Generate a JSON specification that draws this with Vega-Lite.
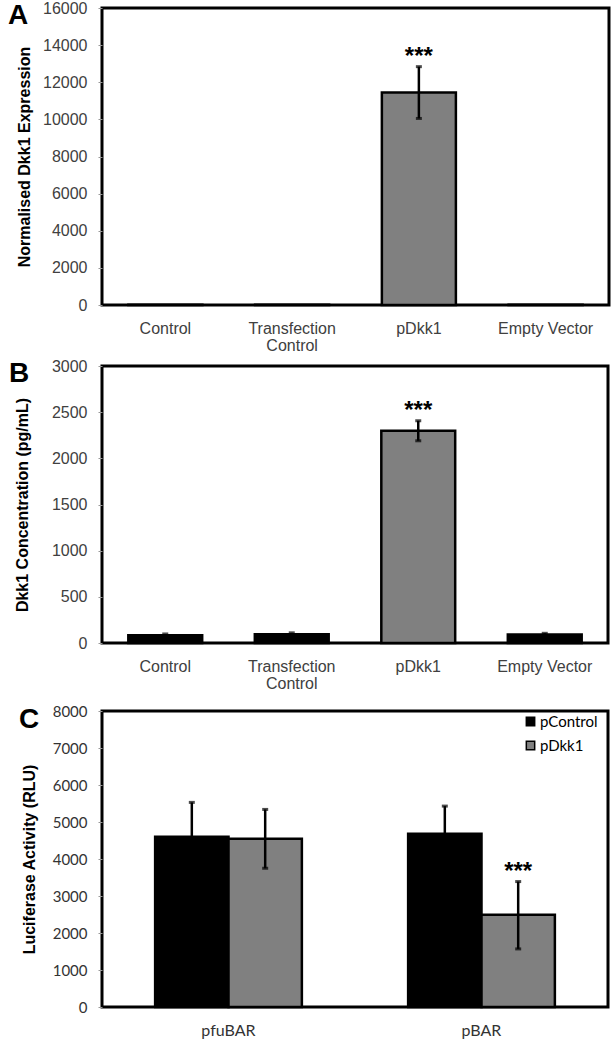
{
  "$schema": "https://vega.github.io/schema/vega-lite/v6.json",
  "background": "white",
  "padding": {"left": 6, "top": -2, "right": 5, "bottom": 0},
  "spacing": 1,
  "align": "none",
  "resolve": {"scale": {"color": "independent"}, "legend": {"color": "independent"}},
  "config": {
    "view": {"stroke": "black", "strokeWidth": 3},
    "font": "Liberation Sans",
    "axis": {"grid": false, "domain": false},
    "axisX": {"labelFont": "Liberation Sans", "labelFontSize": 16, "labelColor": "#404040", "ticks": false, "labelPadding": 15, "labelAngle": 0, "labelLineHeight": 17, "title": null},
    "title": {"anchor": "start", "frame": "group", "fontSize": 28, "fontWeight": "bold", "font": "Liberation Sans", "color": "black", "offset": -30}
  },
  "vconcat": [
    {
      "title": {"text": "A", "dx": -94},
      "width": 507,
      "height": 297,
      "data": {"values": [
        {"condition": "Control", "mean": 20, "low": null, "high": null, "sig": null},
        {"condition": "Transfection Control", "mean": 20, "low": null, "high": null, "sig": null},
        {"condition": "pDkk1", "mean": 11450, "low": 10050, "high": 12840, "sig": "***"},
        {"condition": "Empty Vector", "mean": 20, "low": null, "high": null, "sig": null}
      ]},
      "encoding": {
        "x": {"field": "condition", "type": "nominal", "sort": null, "scale": {"paddingInner": 0.416, "paddingOuter": 0.208},
              "axis": {"labelExpr": "datum.value == 'Transfection Control' ? ['Transfection', 'Control'] : datum.value"}}
      },
      "layer": [
        {"mark": {"type": "bar", "stroke": "black", "strokeWidth": 2.5},
         "encoding": {
           "y": {"field": "mean", "type": "quantitative", "scale": {"domain": [0, 16000]},
                 "axis": {"title": "Normalised Dkk1 Expression", "values": [0, 2000, 4000, 6000, 8000, 10000, 12000, 14000, 16000], "format": "d", "labelOverlap": false, "labelFont": "Liberation Sans", "labelFontSize": 16, "labelColor": "#404040", "tickColor": "#999999", "tickSize": 4, "labelPadding": 11, "titleFont": "Liberation Sans", "titleFontSize": 16, "titleFontWeight": "bold", "titleColor": "black", "titlePadding": 10}},
           "color": {"field": "condition", "type": "nominal", "scale": {"domain": ["Control", "Transfection Control", "pDkk1", "Empty Vector"], "range": ["#000000", "#000000", "#808080", "#000000"]}, "legend": null}
         }},
        {"mark": {"type": "rule", "strokeWidth": 2.5, "color": "black"},
         "encoding": {"y": {"field": "low", "type": "quantitative",
                 "axis": {"title": "Normalised Dkk1 Expression", "values": [0, 2000, 4000, 6000, 8000, 10000, 12000, 14000, 16000], "format": "d", "labelOverlap": false, "labelFont": "Liberation Sans", "labelFontSize": 16, "labelColor": "#404040", "tickColor": "#999999", "tickSize": 4, "labelPadding": 11, "titleFont": "Liberation Sans", "titleFontSize": 16, "titleFontWeight": "bold", "titleColor": "black", "titlePadding": 10}}, "y2": {"field": "high"}}},
        {"mark": {"type": "tick", "size": 6, "thickness": 3, "color": "black"},
         "encoding": {"y": {"field": "low", "type": "quantitative",
                 "axis": {"title": "Normalised Dkk1 Expression", "values": [0, 2000, 4000, 6000, 8000, 10000, 12000, 14000, 16000], "format": "d", "labelOverlap": false, "labelFont": "Liberation Sans", "labelFontSize": 16, "labelColor": "#404040", "tickColor": "#999999", "tickSize": 4, "labelPadding": 11, "titleFont": "Liberation Sans", "titleFontSize": 16, "titleFontWeight": "bold", "titleColor": "black", "titlePadding": 10}}}},
        {"mark": {"type": "tick", "size": 6, "thickness": 3, "color": "black"},
         "encoding": {"y": {"field": "high", "type": "quantitative",
                 "axis": {"title": "Normalised Dkk1 Expression", "values": [0, 2000, 4000, 6000, 8000, 10000, 12000, 14000, 16000], "format": "d", "labelOverlap": false, "labelFont": "Liberation Sans", "labelFontSize": 16, "labelColor": "#404040", "tickColor": "#999999", "tickSize": 4, "labelPadding": 11, "titleFont": "Liberation Sans", "titleFontSize": 16, "titleFontWeight": "bold", "titleColor": "black", "titlePadding": 10}}}},
        {"transform": [{"filter": "datum.sig != null"}],
         "mark": {"type": "text", "fontSize": 24, "fontWeight": "bold", "baseline": "alphabetic", "dy": -3, "color": "black"},
         "encoding": {"y": {"field": "high", "type": "quantitative",
                 "axis": {"title": "Normalised Dkk1 Expression", "values": [0, 2000, 4000, 6000, 8000, 10000, 12000, 14000, 16000], "format": "d", "labelOverlap": false, "labelFont": "Liberation Sans", "labelFontSize": 16, "labelColor": "#404040", "tickColor": "#999999", "tickSize": 4, "labelPadding": 11, "titleFont": "Liberation Sans", "titleFontSize": 16, "titleFontWeight": "bold", "titleColor": "black", "titlePadding": 10}}, "text": {"field": "sig"}}}
      ]
    },
    {
      "title": {"text": "B", "dx": -93},
      "width": 506,
      "height": 277,
      "data": {"values": [
        {"condition": "Control", "mean": 85, "low": 72, "high": 98, "sig": null},
        {"condition": "Transfection Control", "mean": 95, "low": 80, "high": 110, "sig": null},
        {"condition": "pDkk1", "mean": 2300, "low": 2190, "high": 2407, "sig": "***"},
        {"condition": "Empty Vector", "mean": 92, "low": 80, "high": 105, "sig": null}
      ]},
      "encoding": {
        "x": {"field": "condition", "type": "nominal", "sort": null, "scale": {"paddingInner": 0.416, "paddingOuter": 0.208},
              "axis": {"minExtent": 56, "labelExpr": "datum.value == 'Transfection Control' ? ['Transfection', 'Control'] : datum.value"}}
      },
      "layer": [
        {"mark": {"type": "bar", "stroke": "black", "strokeWidth": 2.5},
         "encoding": {
           "y": {"field": "mean", "type": "quantitative", "scale": {"domain": [0, 3000]},
                 "axis": {"title": "Dkk1 Concentration (pg/mL)", "values": [0, 500, 1000, 1500, 2000, 2500, 3000], "format": "d", "labelOverlap": false, "labelFont": "Liberation Sans", "labelFontSize": 16, "labelColor": "#404040", "tickColor": "#999999", "tickSize": 4, "labelPadding": 11, "titleFont": "Liberation Sans", "titleFontSize": 16, "titleFontWeight": "bold", "titleColor": "black", "titlePadding": 21}},
           "color": {"field": "condition", "type": "nominal", "scale": {"domain": ["Control", "Transfection Control", "pDkk1", "Empty Vector"], "range": ["#000000", "#000000", "#808080", "#000000"]}, "legend": null}
         }},
        {"mark": {"type": "rule", "strokeWidth": 2.5, "color": "black"},
         "encoding": {"y": {"field": "low", "type": "quantitative",
                 "axis": {"title": "Dkk1 Concentration (pg/mL)", "values": [0, 500, 1000, 1500, 2000, 2500, 3000], "format": "d", "labelOverlap": false, "labelFont": "Liberation Sans", "labelFontSize": 16, "labelColor": "#404040", "tickColor": "#999999", "tickSize": 4, "labelPadding": 11, "titleFont": "Liberation Sans", "titleFontSize": 16, "titleFontWeight": "bold", "titleColor": "black", "titlePadding": 21}}, "y2": {"field": "high"}}},
        {"mark": {"type": "tick", "size": 6, "thickness": 3, "color": "black"},
         "encoding": {"y": {"field": "low", "type": "quantitative",
                 "axis": {"title": "Dkk1 Concentration (pg/mL)", "values": [0, 500, 1000, 1500, 2000, 2500, 3000], "format": "d", "labelOverlap": false, "labelFont": "Liberation Sans", "labelFontSize": 16, "labelColor": "#404040", "tickColor": "#999999", "tickSize": 4, "labelPadding": 11, "titleFont": "Liberation Sans", "titleFontSize": 16, "titleFontWeight": "bold", "titleColor": "black", "titlePadding": 21}}}},
        {"mark": {"type": "tick", "size": 6, "thickness": 3, "color": "black"},
         "encoding": {"y": {"field": "high", "type": "quantitative",
                 "axis": {"title": "Dkk1 Concentration (pg/mL)", "values": [0, 500, 1000, 1500, 2000, 2500, 3000], "format": "d", "labelOverlap": false, "labelFont": "Liberation Sans", "labelFontSize": 16, "labelColor": "#404040", "tickColor": "#999999", "tickSize": 4, "labelPadding": 11, "titleFont": "Liberation Sans", "titleFontSize": 16, "titleFontWeight": "bold", "titleColor": "black", "titlePadding": 21}}}},
        {"transform": [{"filter": "datum.sig != null"}],
         "mark": {"type": "text", "fontSize": 24, "fontWeight": "bold", "baseline": "alphabetic", "dy": -3, "color": "black"},
         "encoding": {"y": {"field": "high", "type": "quantitative",
                 "axis": {"title": "Dkk1 Concentration (pg/mL)", "values": [0, 500, 1000, 1500, 2000, 2500, 3000], "format": "d", "labelOverlap": false, "labelFont": "Liberation Sans", "labelFontSize": 16, "labelColor": "#404040", "tickColor": "#999999", "tickSize": 4, "labelPadding": 11, "titleFont": "Liberation Sans", "titleFontSize": 16, "titleFontWeight": "bold", "titleColor": "black", "titlePadding": 21}}, "text": {"field": "sig"}}}
      ]
    },
    {
      "title": {"text": "C", "dx": -83},
      "width": 506,
      "height": 296,
      "data": {"values": [
        {"reporter": "pfuBAR", "plasmid": "pControl", "mean": 4600, "low": 3670, "high": 5530, "sig": null},
        {"reporter": "pfuBAR", "plasmid": "pDkk1", "mean": 4550, "low": 3750, "high": 5340, "sig": null},
        {"reporter": "pBAR", "plasmid": "pControl", "mean": 4680, "low": 3930, "high": 5430, "sig": null},
        {"reporter": "pBAR", "plasmid": "pDkk1", "mean": 2490, "low": 1570, "high": 3390, "sig": "***"}
      ]},
      "encoding": {
        "x": {"field": "reporter", "type": "nominal", "sort": null, "scale": {"paddingInner": 0.42, "paddingOuter": 0.21},
              "axis": {"labelFont": "Lato", "labelFontSize": 16, "labelColor": "#333333"}},
        "xOffset": {"field": "plasmid", "type": "nominal", "sort": null}
      },
      "layer": [
        {"mark": {"type": "bar", "stroke": "black", "strokeWidth": 2.5},
         "encoding": {
           "y": {"field": "mean", "type": "quantitative", "scale": {"domain": [0, 8000]},
                 "axis": {"title": "Luciferase Activity (RLU)", "values": [0, 1000, 2000, 3000, 4000, 5000, 6000, 7000, 8000], "format": "d", "labelOverlap": false, "labelFont": "Lato", "labelFontSize": 15, "labelColor": "#333333", "tickColor": "#999999", "tickSize": 4, "labelPadding": 11, "titleFont": "Liberation Sans", "titleFontSize": 16, "titleFontWeight": "bold", "titleColor": "black", "titlePadding": 15}},
           "color": {"field": "plasmid", "type": "nominal", "scale": {"domain": ["pControl", "pDkk1"], "range": ["#000000", "#808080"]},
                     "legend": {"orient": "none", "legendX": 421, "legendY": 3, "title": null, "symbolType": "square", "symbolSize": 70, "symbolStrokeColor": "black", "symbolStrokeWidth": 1.5, "labelFont": "Lato", "labelFontSize": 15, "labelColor": "#000000", "labelOffset": 2, "rowPadding": 8, "padding": 0}}
         }},
        {"mark": {"type": "rule", "strokeWidth": 2.5, "color": "black"},
         "encoding": {"y": {"field": "low", "type": "quantitative",
                 "axis": {"title": "Luciferase Activity (RLU)", "values": [0, 1000, 2000, 3000, 4000, 5000, 6000, 7000, 8000], "format": "d", "labelOverlap": false, "labelFont": "Lato", "labelFontSize": 15, "labelColor": "#333333", "tickColor": "#999999", "tickSize": 4, "labelPadding": 11, "titleFont": "Liberation Sans", "titleFontSize": 16, "titleFontWeight": "bold", "titleColor": "black", "titlePadding": 15}}, "y2": {"field": "high"}}},
        {"mark": {"type": "tick", "size": 6, "thickness": 3, "color": "black"},
         "encoding": {"y": {"field": "low", "type": "quantitative",
                 "axis": {"title": "Luciferase Activity (RLU)", "values": [0, 1000, 2000, 3000, 4000, 5000, 6000, 7000, 8000], "format": "d", "labelOverlap": false, "labelFont": "Lato", "labelFontSize": 15, "labelColor": "#333333", "tickColor": "#999999", "tickSize": 4, "labelPadding": 11, "titleFont": "Liberation Sans", "titleFontSize": 16, "titleFontWeight": "bold", "titleColor": "black", "titlePadding": 15}}}},
        {"mark": {"type": "tick", "size": 6, "thickness": 3, "color": "black"},
         "encoding": {"y": {"field": "high", "type": "quantitative",
                 "axis": {"title": "Luciferase Activity (RLU)", "values": [0, 1000, 2000, 3000, 4000, 5000, 6000, 7000, 8000], "format": "d", "labelOverlap": false, "labelFont": "Lato", "labelFontSize": 15, "labelColor": "#333333", "tickColor": "#999999", "tickSize": 4, "labelPadding": 11, "titleFont": "Liberation Sans", "titleFontSize": 16, "titleFontWeight": "bold", "titleColor": "black", "titlePadding": 15}}}},
        {"transform": [{"filter": "datum.sig != null"}],
         "mark": {"type": "text", "fontSize": 24, "fontWeight": "bold", "baseline": "alphabetic", "dy": -3, "color": "black"},
         "encoding": {"y": {"field": "high", "type": "quantitative",
                 "axis": {"title": "Luciferase Activity (RLU)", "values": [0, 1000, 2000, 3000, 4000, 5000, 6000, 7000, 8000], "format": "d", "labelOverlap": false, "labelFont": "Lato", "labelFontSize": 15, "labelColor": "#333333", "tickColor": "#999999", "tickSize": 4, "labelPadding": 11, "titleFont": "Liberation Sans", "titleFontSize": 16, "titleFontWeight": "bold", "titleColor": "black", "titlePadding": 15}}, "text": {"field": "sig"}}}
      ]
    }
  ]
}
